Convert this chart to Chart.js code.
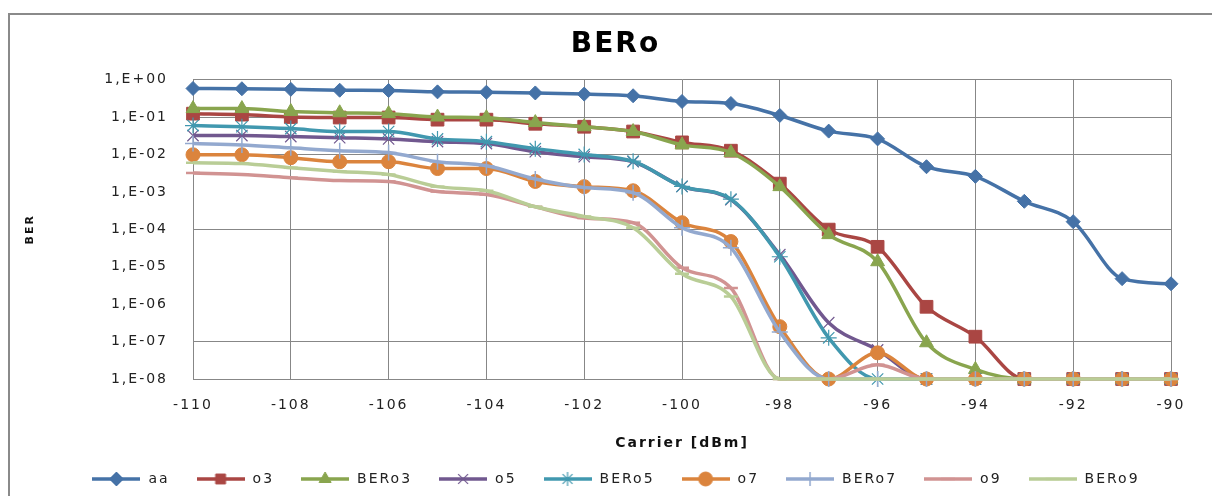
<!DOCTYPE html>
<html>
<head>
<meta charset="utf-8">
<script src="https://cdn.jsdelivr.net/npm/chart.js@4.4.1/dist/chart.umd.min.js"></script>
<style>
  html, body { margin: 0; padding: 0; background: #fff; }
  #wrap { position: relative; width: 1212px; height: 496px; overflow: hidden; }
  #wrap canvas { position: absolute; left: 0; top: 0; }
  #frame {
    position: absolute; left: 8px; top: 13px; width: 1300px; height: 600px;
    border-left: 2px solid #8a8a8a; border-top: 2px solid #8a8a8a; pointer-events: none;
  }
</style>
</head>
<body>
<div id="wrap">
  <canvas id="berChart" width="1212" height="496"></canvas>
  <div id="frame"></div>
</div>
<script>
// x values (dBm)
const carrier = [-110, -109, -108, -107, -106, -105, -104, -103, -102, -101, -100,
                 -99, -98, -97, -96, -95, -94, -93, -92, -91, -90];

// BER per series
const aa    = [0.58, 0.57, 0.55, 0.52, 0.51, 0.47, 0.46, 0.44, 0.41, 0.37, 0.26, 0.23, 0.11, 0.042, 0.026, 0.0047, 0.0026, 0.00056, 0.00016, 4.8e-6, 3.5e-6];
const o3    = [0.123, 0.116, 0.10, 0.097, 0.097, 0.085, 0.085, 0.066, 0.055, 0.041, 0.021, 0.0126, 0.00166, 9.8e-5, 3.4e-5, 8.5e-7, 1.35e-7, 1e-8, 1e-8, 1e-8, 1e-8];
const BERo3 = [0.168, 0.168, 0.14, 0.13, 0.123, 0.10, 0.096, 0.071, 0.055, 0.041, 0.018, 0.0112, 0.00138, 7.2e-5, 1.36e-5, 9.3e-8, 1.8e-8, 1e-8, 1e-8, 1e-8, 1e-8];
const o5    = [0.032, 0.032, 0.030, 0.028, 0.026, 0.022, 0.0195, 0.0118, 0.0087, 0.0064, 0.0014, 0.00062, 2.1e-5, 3.2e-7, 6e-8, 1e-8, 1e-8, 1e-8, 1e-8, 1e-8, 1e-8];
const BERo5 = [0.059, 0.055, 0.049, 0.041, 0.041, 0.026, 0.022, 0.0143, 0.010, 0.0066, 0.0014, 0.00064, 1.85e-5, 1.26e-7, 1e-8, 1e-8, 1e-8, 1e-8, 1e-8, 1e-8, 1e-8];
const o7    = [0.0098, 0.0098, 0.0082, 0.0064, 0.0064, 0.0042, 0.0042, 0.0019, 0.00138, 0.00107, 1.5e-4, 4.7e-5, 2.5e-7, 1e-8, 5e-8, 1e-8, 1e-8, 1e-8, 1e-8, 1e-8, 1e-8];
const BERo7 = [0.0195, 0.018, 0.015, 0.0126, 0.0112, 0.0064, 0.005, 0.0022, 0.0013, 0.00095, 1.1e-4, 3.2e-5, 1.8e-7, 1e-8, 1e-8, 1e-8, 1e-8, 1e-8, 1e-8, 1e-8, 1e-8];
const o9    = [0.0032, 0.0029, 0.0024, 0.002, 0.0019, 0.00102, 0.00085, 0.0004, 0.0002, 0.00015, 9.4e-6, 2.7e-6, 1e-8, 1e-8, 2.4e-8, 1e-8, 1e-8, 1e-8, 1e-8, 1e-8, 1e-8];
const BERo9 = [0.006, 0.0057, 0.0044, 0.0035, 0.0029, 0.00138, 0.00107, 0.0004, 0.00022, 0.00011, 6.5e-6, 1.6e-6, 1e-8, 1e-8, 1e-8, 1e-8, 1e-8, 1e-8, 1e-8, 1e-8, 1e-8];

// y ticks: one per decade
const berTicks = [1e-8, 1e-7, 1e-6, 1e-5, 1e-4, 1e-3, 1e-2, 1e-1, 1];
// decades whose grid line is not drawn in the original
const noGrid = [1e-3, 1e-5, 1e-6];

const FONT = '"DejaVu Sans", sans-serif';
const GRID = '#878787';

function fmtBer(v) {
  const e = Math.round(Math.log10(v));
  return '1,E' + (e < 0 ? '-' : '+') + String(Math.abs(e)).padStart(2, '0');
}

function series(label, data, color, style, radius, bw) {
  return {
    label: label,
    data: data.map((v, i) => ({ x: carrier[i], y: v })),
    borderColor: color,
    backgroundColor: color,
    borderWidth: 3.5,
    pointStyle: style,
    pointRadius: radius,
    pointBorderWidth: bw,
    pointBorderColor: color,
    pointBackgroundColor: color,
    tension: 0.4,
    cubicInterpolationMode: 'monotone',
    clip: false
  };
}

const datasets = [
  series('aa', aa, '#4572A7', 'rectRot', 7, 1),
  series('o3', o3, '#AA4643', 'rect', 9, 1),
  series('BERo3', BERo3, '#89A54E', 'triangle', 8, 1),
  series('o5', o5, '#71588F', 'crossRot', 8, 1.2),
  series('BERo5', BERo5, '#4198AF', 'star', 8, 1.2),
  series('o7', o7, '#DB843D', 'circle', 7, 1),
  series('BERo7', BERo7, '#93A9CF', 'cross', 8, 1.5),
  series('o9', o9, '#D19392', 'line', 7, 2.5),
  series('BERo9', BERo9, '#B9CD96', 'line', 7, 2.5)
];
// later series on top, as in the original
datasets.forEach((d, i) => { d.order = datasets.length - i; });

// small line+marker picture for the legend
function legendIcon(ds) {
  const c = document.createElement('canvas');
  c.width = 48; c.height = 16;
  const g = c.getContext('2d');
  g.strokeStyle = ds.borderColor;
  g.lineWidth = 3.5;
  g.beginPath(); g.moveTo(0, 8); g.lineTo(48, 8); g.stroke();
  g.fillStyle = ds.borderColor;
  g.lineWidth = ds.pointBorderWidth;
  Chart.helpers.drawPoint(g, {
    pointStyle: ds.pointStyle, radius: Math.min(ds.pointRadius, 7), rotation: 0, borderWidth: ds.pointBorderWidth
  }, 24, 8);
  return c;
}

const spacing = {
  id: 'spacing',
  beforeInit(chart) { chart.ctx.letterSpacing = '2px'; },
  beforeLayout(chart) { chart.ctx.letterSpacing = '2px'; },
  beforeDraw(chart) { chart.ctx.letterSpacing = '2px'; }
};

new Chart(document.getElementById('berChart'), {
  type: 'line',
  data: { datasets: datasets },
  plugins: [spacing],
  options: {
    responsive: false,
    animation: false,
    layout: { padding: { left: 40, right: 21, top: 0, bottom: 0 } },
    plugins: {
      title: {
        display: true,
        text: 'BERo',
        color: '#000',
        font: { family: FONT, size: 28, weight: 'bold' },
        padding: { top: 28, bottom: 18 }
      },
      legend: {
        position: 'bottom',
        labels: {
          color: '#222',
          font: { family: FONT, size: 14 },
          usePointStyle: true,
          pointStyleWidth: 50,
          boxHeight: 14,
          padding: 26,
          generateLabels(chart) {
            return chart.data.datasets.map((ds, i) => ({
              text: ds.label,
              pointStyle: legendIcon(ds),
              datasetIndex: i,
              hidden: false,
              fontColor: '#222',
              lineWidth: 0,
              strokeStyle: 'rgba(0,0,0,0)',
              fillStyle: 'rgba(0,0,0,0)'
            }));
          }
        }
      },
      tooltip: { enabled: false }
    },
    scales: {
      x: {
        type: 'linear',
        min: -110,
        max: -90,
        afterFit(scale) { scale.height = 67; },
        ticks: { stepSize: 2, color: '#222', font: { family: FONT, size: 14 }, padding: 18 },
        grid: { color: GRID, lineWidth: 1, drawTicks: false },
        border: { color: GRID, width: 1 },
        title: {
          display: true,
          text: 'Carrier [dBm]',
          color: '#111',
          font: { family: FONT, size: 14, weight: 'bold' },
          padding: { top: 0, bottom: -6 }
        }
      },
      y: {
        type: 'logarithmic',
        min: 1e-8,
        max: 1,
        afterFit(scale) { scale.width = 153; },
        afterBuildTicks(scale) { scale.ticks = berTicks.map(v => ({ value: v })); },
        ticks: {
          color: '#222',
          font: { family: FONT, size: 14 },
          padding: 25,
          callback: v => fmtBer(v)
        },
        grid: {
          color: ctx => (ctx.tick && noGrid.includes(ctx.tick.value)) ? 'rgba(0,0,0,0)' : GRID,
          lineWidth: 1,
          drawTicks: false
        },
        border: { color: GRID, width: 1 },
        title: {
          display: true,
          text: 'BER',
          color: '#111',
          font: { family: FONT, size: 11, weight: 'bold' },
          padding: { top: -16, bottom: 0 }
        }
      },
      // empty right-hand margin so the plot ends where the original does
      gap: {
        type: 'linear',
        position: 'right',
        min: 0,
        max: 1,
        afterFit(scale) { scale.width = 20; },
        ticks: { display: false },
        grid: { display: false },
        border: { display: false }
      }
    }
  }
});
</script>
</body>
</html>
